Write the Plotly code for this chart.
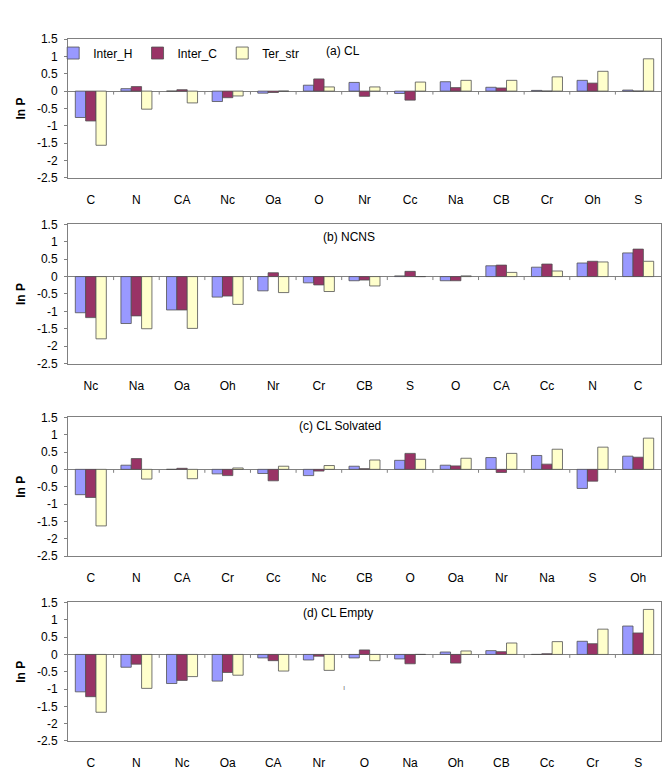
import plotly.graph_objects as go
from plotly.subplots import make_subplots

series_names = ["Inter_H", "Inter_C", "Ter_str"]
series_colors = ["#9999FF", "#993366", "#FFFFCC"]

cats_a = ["C", "N", "CA", "Nc", "Oa", "O", "Nr", "Cc", "Na", "CB", "Cr", "Oh", "S"]
a_inter_h = [-0.76, 0.07, 0.0, -0.30, -0.06, 0.17, 0.25, -0.07, 0.27, 0.11, 0.02, 0.31, 0.03]
a_inter_c = [-0.86, 0.13, 0.04, -0.19, -0.04, 0.35, -0.15, -0.26, 0.10, 0.09, 0.0, 0.23, 0.0]
a_ter_str = [-1.56, -0.52, -0.34, -0.14, 0.0, 0.12, 0.12, 0.26, 0.31, 0.31, 0.41, 0.57, 0.93]

cats_b = ["Nc", "Na", "Oa", "Oh", "Nr", "Cr", "CB", "S", "O", "CA", "Cc", "N", "C"]
b_inter_h = [-1.04, -1.35, -0.96, -0.59, -0.41, -0.18, -0.12, 0.02, -0.12, 0.31, 0.27, 0.39, 0.68]
b_inter_c = [-1.18, -1.13, -0.96, -0.56, 0.11, -0.24, -0.10, 0.15, -0.12, 0.33, 0.36, 0.44, 0.79]
b_ter_str = [-1.79, -1.50, -1.49, -0.80, -0.46, -0.43, -0.27, 0.0, 0.02, 0.12, 0.16, 0.42, 0.44]

cats_c = ["C", "N", "CA", "Cr", "Cc", "Nc", "CB", "O", "Oa", "Nr", "Na", "S", "Oh"]
c_inter_h = [-0.73, 0.12, 0.0, -0.13, -0.12, -0.18, 0.09, 0.26, 0.12, 0.34, 0.40, -0.55, 0.38]
c_inter_c = [-0.81, 0.31, 0.03, -0.18, -0.33, -0.05, 0.02, 0.46, 0.10, -0.09, 0.15, -0.34, 0.35]
c_ter_str = [-1.63, -0.28, -0.27, 0.04, 0.09, 0.11, 0.27, 0.29, 0.32, 0.46, 0.58, 0.64, 0.90]

cats_d = ["C", "N", "Nc", "Oa", "CA", "Nr", "O", "Na", "Oh", "CB", "Cc", "Cr", "S"]
d_inter_h = [-1.08, -0.37, -0.84, -0.77, -0.10, -0.16, -0.10, -0.13, 0.07, 0.11, 0.0, 0.38, 0.82]
d_inter_c = [-1.22, -0.28, -0.75, -0.52, -0.18, -0.05, 0.13, -0.27, -0.25, 0.08, 0.02, 0.31, 0.62]
d_ter_str = [-1.67, -0.98, -0.64, -0.60, -0.48, -0.46, -0.18, 0.0, 0.10, 0.33, 0.37, 0.73, 1.30]

panel_titles = ["(a) CL", "(b) NCNS", "(c) CL Solvated", "(d) CL Empty"]
y_ticks = [1.5, 1, 0.5, 0, -0.5, -1, -1.5, -2, -2.5]

panels = [
    (cats_a, [a_inter_h, a_inter_c, a_ter_str]),
    (cats_b, [b_inter_h, b_inter_c, b_ter_str]),
    (cats_c, [c_inter_h, c_inter_c, c_ter_str]),
    (cats_d, [d_inter_h, d_inter_c, d_ter_str]),
]

FONT = "Liberation Sans, Arial, sans-serif"
GRAY = "#808080"
FS = 12

fig = make_subplots(rows=4, cols=1)

for r, (cats, vals) in enumerate(panels, start=1):
    for s, (name, color) in enumerate(zip(series_names, series_colors)):
        fig.add_trace(go.Bar(
            x=cats, y=vals[s], name=name, marker_color=color,
            marker_line=dict(color="#505050", width=0.8),
            showlegend=(r == 1), legendgroup=name,
        ), row=r, col=1)

domains = [(0.8021, 1.0), (0.5377, 0.7359), (0.2634, 0.4611), (0.0, 0.1973)]
title_pos = [(335, 1.16), (341, 1.13), (332, 1.24), (330, 1.21)]

for i, dom in enumerate(domains):
    idx = "" if i == 0 else str(i + 1)
    fig.layout["yaxis" + idx].update(
        domain=dom, range=[-2.5, 1.5], tickvals=y_ticks,
        ticktext=[("%g" % v) for v in y_ticks],
        showgrid=False, zeroline=True, zerolinecolor=GRAY, zerolinewidth=1,
        showline=True, linecolor=GRAY, linewidth=1, mirror=True,
        ticks="outside", ticklen=3, tickcolor=GRAY, ticklabelstandoff=4,
        tickfont=dict(family=FONT, size=FS, color="black"),
        title=dict(text="<b>ln P</b>", font=dict(family=FONT, size=FS, color="black"), standoff=8),
    )
    fig.layout["xaxis" + idx].update(
        showgrid=False, showline=True, linecolor=GRAY, linewidth=1, mirror=True,
        ticks="", ticklabelstandoff=11,
        tickfont=dict(family=FONT, size=FS, color="black"),
    )
    ncat = len(panels[i][0])
    for k in range(1, ncat):
        fig.add_shape(type="line", xref="x" + idx, yref="y" + idx,
                      x0=k - 0.5, x1=k - 0.5, y0=0, y1=-0.1,
                      line=dict(color=GRAY, width=1))
    px, val = title_pos[i]
    fig.add_annotation(
        text=panel_titles[i], xref="paper", yref="y" + idx,
        x=(px - 60) / 593, y=val, showarrow=False,
        font=dict(family=FONT, size=FS, color="black"),
    )

# small stray mark present in panel (d) of the original
fig.add_annotation(text="ı", xref="paper", yref="y4", x=(336 - 60) / 593, y=-0.96,
                   showarrow=False, font=dict(family=FONT, size=8, color="#777777"))

fig.update_layout(
    width=672, height=774,
    margin=dict(l=60, r=19, t=31, b=41),
    plot_bgcolor="white", paper_bgcolor="white",
    barmode="group", bargap=0.32, bargroupgap=0,
    legend=dict(orientation="h", x=-0.025, xanchor="left", y=0.980, yanchor="middle",
                font=dict(family=FONT, size=FS, color="black"),
                bgcolor="rgba(0,0,0,0)", itemwidth=30, tracegroupgap=0),
    showlegend=True,
)

fig.write_html("out.html")
